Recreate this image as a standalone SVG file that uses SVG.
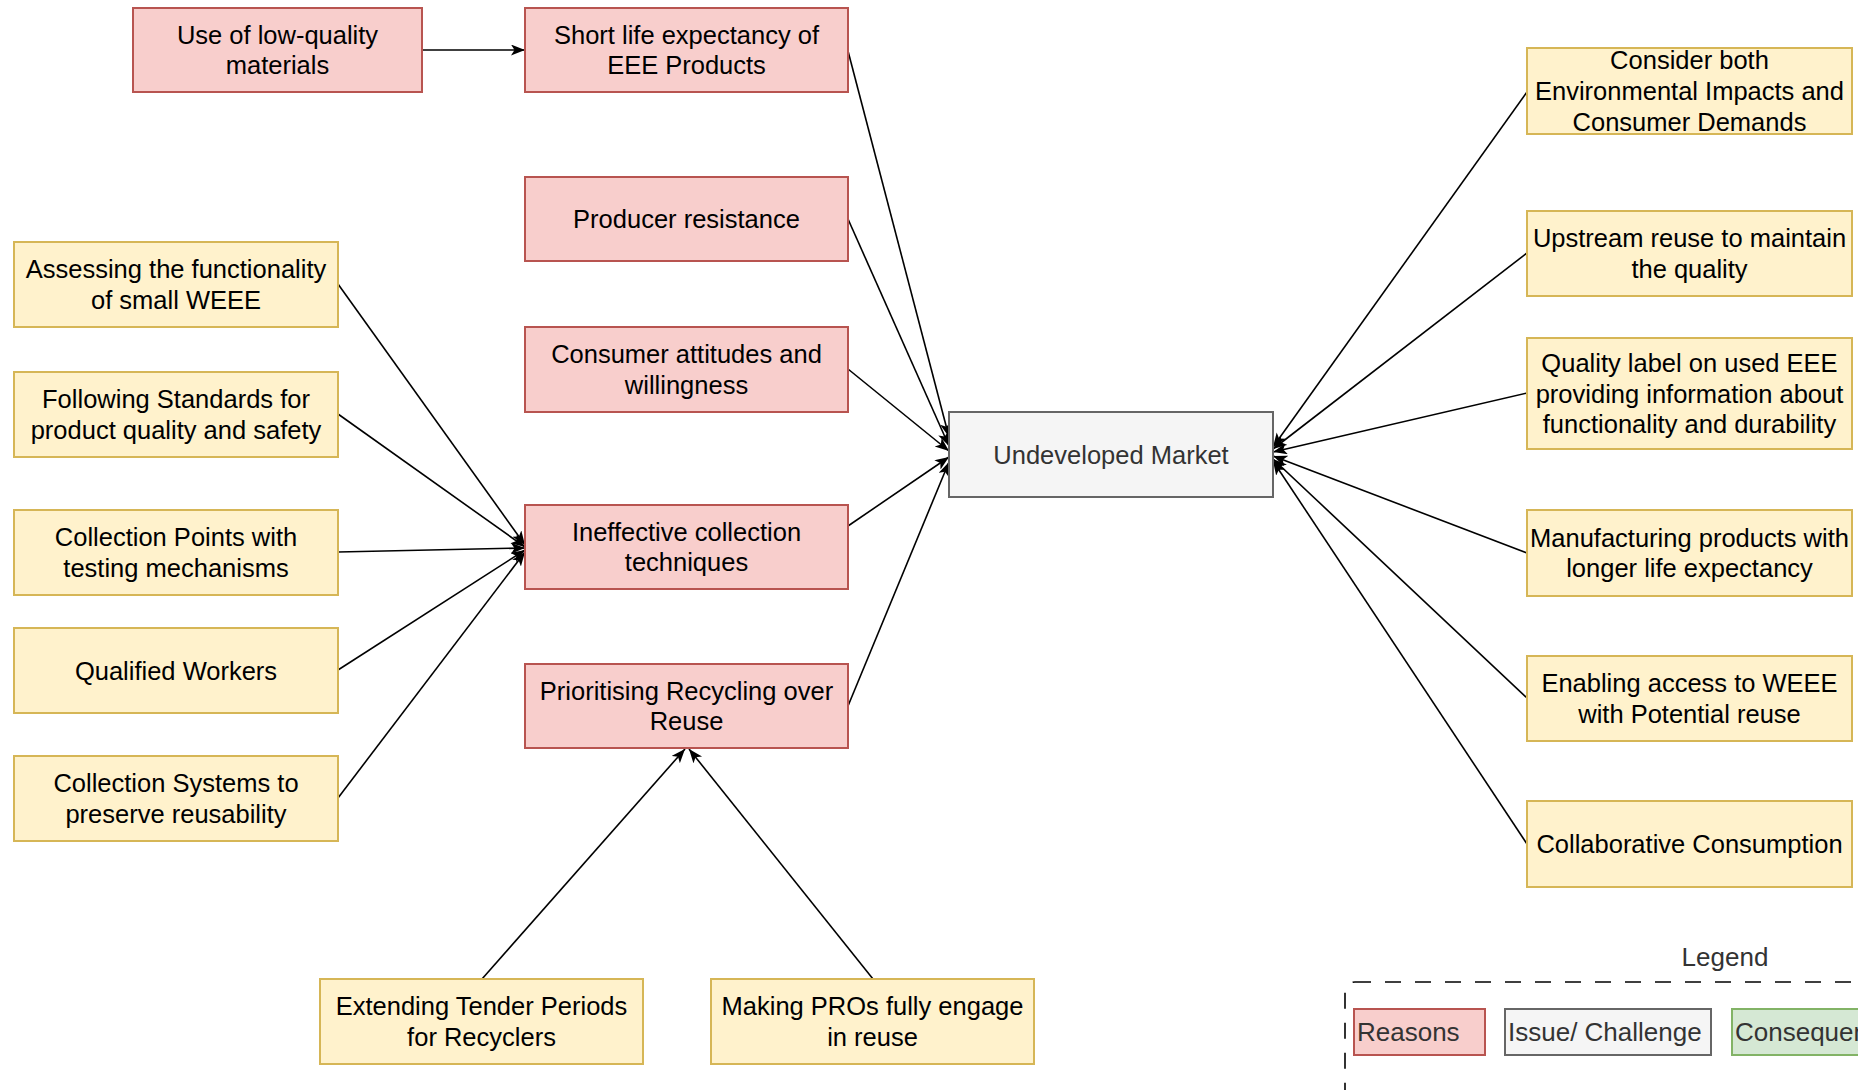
<svg xmlns="http://www.w3.org/2000/svg" width="1858" height="1090" viewBox="0 0 1858 1090">
<style>
.r{fill:#f8cecc;stroke:#b85450;stroke-width:2}
.y{fill:#fff2cc;stroke:#d6b656;stroke-width:2}
.g{fill:#f5f5f5;stroke:#666666;stroke-width:2}
.gr{fill:#d5e8d4;stroke:#82b366;stroke-width:2}
.t{font-family:"Liberation Sans",Arial,sans-serif;font-size:25.5px;fill:#000;text-anchor:middle}
.tg{fill:#333333}
.lt{font-family:"Liberation Sans",Arial,sans-serif;font-size:26px;fill:#333333}
.e{stroke:#000;stroke-width:1.6;fill:none;marker-end:url(#arr)}
</style>
<defs>
<marker id="arr" markerUnits="userSpaceOnUse" markerWidth="16" markerHeight="12" refX="14" refY="5.5" orient="auto">
<path d="M0,0 L14,5.5 L0,11 L3.5,5.5 Z" fill="#000"/>
</marker>
</defs>
<rect width="1858" height="1090" fill="#ffffff"/>
<g id="connectors">
<line class="e" x1="422" y1="50" x2="525" y2="50"/>
<line class="e" x1="848" y1="51" x2="949" y2="437"/>
<line class="e" x1="848" y1="219" x2="949" y2="446"/>
<line class="e" x1="848" y1="369" x2="949" y2="451"/>
<line class="e" x1="848" y1="526" x2="949" y2="457"/>
<line class="e" x1="848" y1="706" x2="949" y2="462"/>
<line class="e" x1="338" y1="284" x2="525" y2="545"/>
<line class="e" x1="338" y1="414" x2="525" y2="547"/>
<line class="e" x1="338" y1="552" x2="525" y2="548"/>
<line class="e" x1="338" y1="670" x2="525" y2="550"/>
<line class="e" x1="338" y1="798" x2="525" y2="552"/>
<line class="e" x1="1527" y1="92" x2="1273" y2="447"/>
<line class="e" x1="1527" y1="253" x2="1273" y2="449"/>
<line class="e" x1="1527" y1="393" x2="1273" y2="452"/>
<line class="e" x1="1527" y1="553" x2="1273" y2="456"/>
<line class="e" x1="1527" y1="698" x2="1273" y2="459"/>
<line class="e" x1="1527" y1="844" x2="1273" y2="461"/>
<line class="e" x1="482" y1="979" x2="685" y2="749"/>
<line class="e" x1="873" y1="979" x2="689" y2="749"/>
</g>
<g id="n-lowquality"><rect class="r" x="133" y="8" width="289" height="84"/><text class="t"><tspan x="277.5" y="43.6">Use of low-quality</tspan><tspan x="277.5" y="74.4">materials</tspan></text></g>
<g id="n-shortlife"><rect class="r" x="525" y="8" width="323" height="84"/><text class="t"><tspan x="686.5" y="43.6">Short life expectancy of</tspan><tspan x="686.5" y="74.4">EEE Products</tspan></text></g>
<g id="n-producer"><rect class="r" x="525" y="177" width="323" height="84"/><text class="t" x="686.5" y="228">Producer resistance</text></g>
<g id="n-consumer"><rect class="r" x="525" y="327" width="323" height="85"/><text class="t"><tspan x="686.5" y="363.2">Consumer attitudes and</tspan><tspan x="686.5" y="393.9">willingness</tspan></text></g>
<g id="n-ineffective"><rect class="r" x="525" y="505" width="323" height="84"/><text class="t"><tspan x="686.5" y="540.6">Ineffective collection</tspan><tspan x="686.5" y="571.4">techniques</tspan></text></g>
<g id="n-prioritising"><rect class="r" x="525" y="664" width="323" height="84"/><text class="t"><tspan x="686.5" y="699.6">Prioritising Recycling over</tspan><tspan x="686.5" y="730.4">Reuse</tspan></text></g>
<g id="n-market"><rect class="g" x="949" y="412" width="324" height="85"/><text class="t tg" x="1111" y="463.5">Undeveloped Market</text></g>
<g id="n-assessing"><rect class="y" x="14" y="242" width="324" height="85"/><text class="t"><tspan x="176" y="278.1">Assessing the functionality</tspan><tspan x="176" y="308.9">of small WEEE</tspan></text></g>
<g id="n-following"><rect class="y" x="14" y="372" width="324" height="85"/><text class="t"><tspan x="176" y="408.1">Following Standards for</tspan><tspan x="176" y="438.9">product quality and safety</tspan></text></g>
<g id="n-points"><rect class="y" x="14" y="510" width="324" height="85"/><text class="t"><tspan x="176" y="546.1">Collection Points with</tspan><tspan x="176" y="576.9">testing mechanisms</tspan></text></g>
<g id="n-workers"><rect class="y" x="14" y="628" width="324" height="85"/><text class="t" x="176" y="679.5">Qualified Workers</text></g>
<g id="n-systems"><rect class="y" x="14" y="756" width="324" height="85"/><text class="t"><tspan x="176" y="792.1">Collection Systems to</tspan><tspan x="176" y="822.9">preserve reusability</tspan></text></g>
<g id="n-consider"><rect class="y" x="1527" y="48" width="325" height="86"/><text class="t"><tspan x="1689.5" y="69.3">Consider both</tspan><tspan x="1689.5" y="100">Environmental Impacts and</tspan><tspan x="1689.5" y="130.7">Consumer Demands</tspan></text></g>
<g id="n-upstream"><rect class="y" x="1527" y="211" width="325" height="85"/><text class="t"><tspan x="1689.5" y="247.1">Upstream reuse to maintain</tspan><tspan x="1689.5" y="277.9">the quality</tspan></text></g>
<g id="n-label"><rect class="y" x="1527" y="338" width="325" height="111"/><text class="t"><tspan x="1689.5" y="371.8">Quality label on used EEE</tspan><tspan x="1689.5" y="402.5">providing information about</tspan><tspan x="1689.5" y="433.2">functionality and durability</tspan></text></g>
<g id="n-manufacturing"><rect class="y" x="1527" y="510" width="325" height="86"/><text class="t"><tspan x="1689.5" y="546.6">Manufacturing products with</tspan><tspan x="1689.5" y="577.4">longer life expectancy</tspan></text></g>
<g id="n-enabling"><rect class="y" x="1527" y="656" width="325" height="85"/><text class="t"><tspan x="1689.5" y="692.1">Enabling access to WEEE</tspan><tspan x="1689.5" y="722.9">with Potential reuse</tspan></text></g>
<g id="n-collaborative"><rect class="y" x="1527" y="801" width="325" height="86"/><text class="t" x="1689.5" y="853">Collaborative Consumption</text></g>
<g id="n-tender"><rect class="y" x="320" y="979" width="323" height="85"/><text class="t"><tspan x="481.5" y="1015.1">Extending Tender Periods</tspan><tspan x="481.5" y="1045.9">for Recyclers</tspan></text></g>
<g id="n-pros"><rect class="y" x="711" y="979" width="323" height="85"/><text class="t"><tspan x="872.5" y="1015.1">Making PROs fully engage</tspan><tspan x="872.5" y="1045.9">in reuse</tspan></text></g>
<g id="legend">
<text class="lt" x="1725" y="966" text-anchor="middle" font-size="27">Legend</text>
<rect x="1345" y="982" width="620" height="200" rx="10" fill="none" stroke="#000" stroke-width="1.6" stroke-dasharray="16 14"/>
<rect class="r" x="1354" y="1009" width="131" height="46"/><text class="lt" x="1357" y="1041">Reasons</text>
<rect class="g" x="1505" y="1009" width="206" height="46"/><text class="lt" x="1508" y="1041">Issue/ Challenge</text>
<rect class="gr" x="1732" y="1009" width="200" height="46"/><text class="lt" x="1735" y="1041">Consequences</text>
</g>
</svg>
